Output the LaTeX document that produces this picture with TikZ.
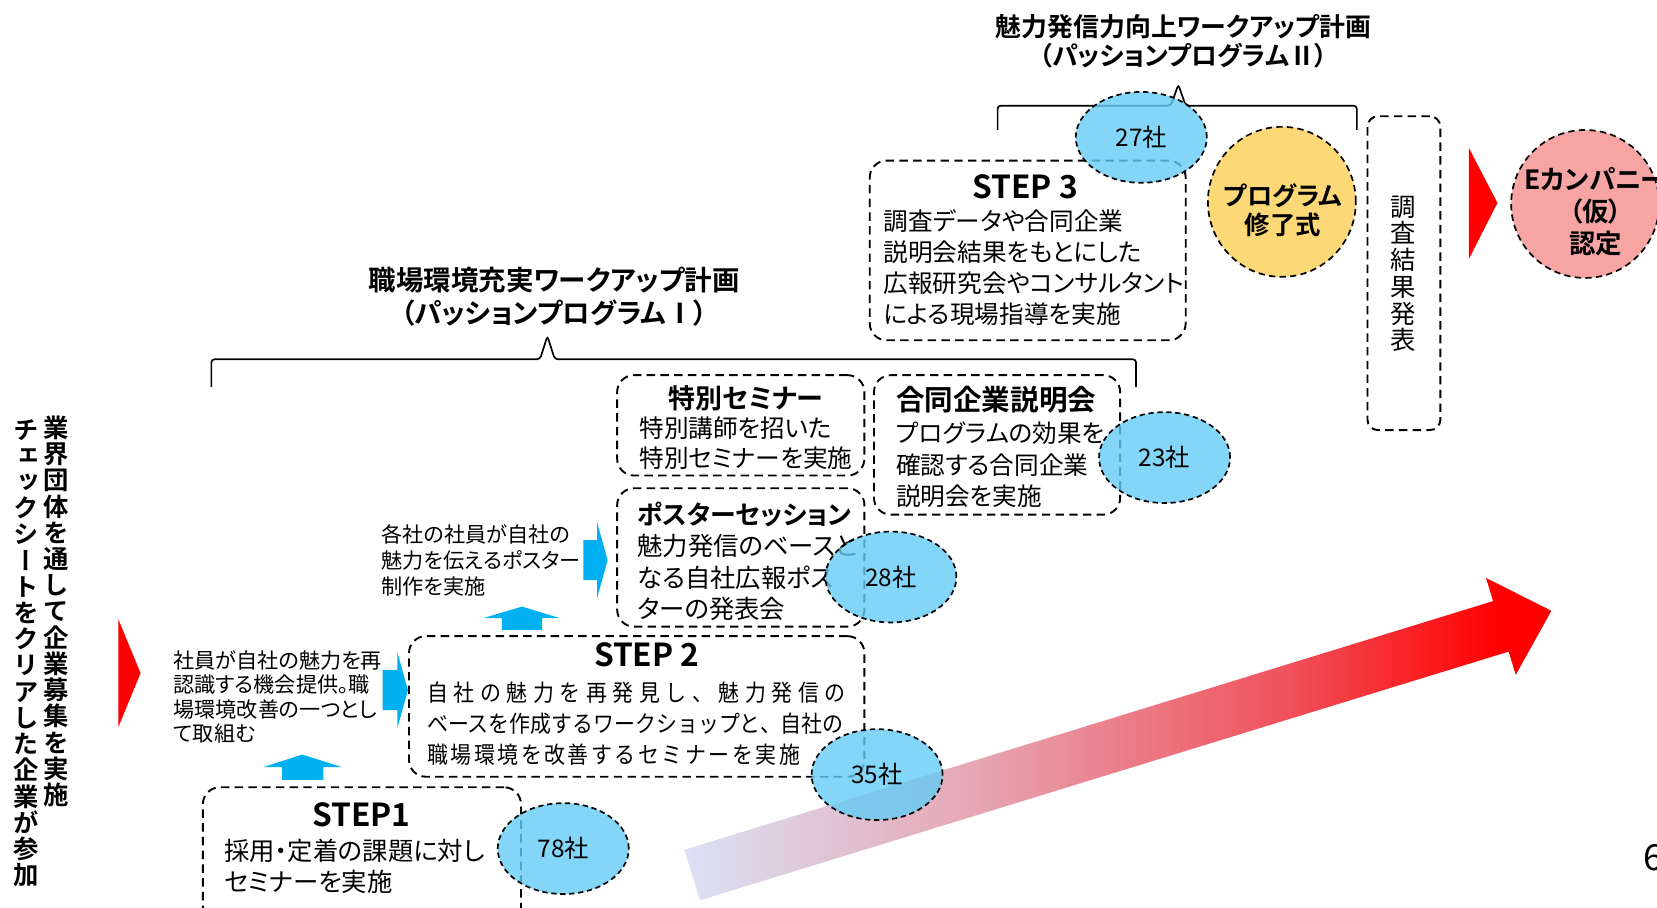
\documentclass[tikz,border=0pt]{standalone}
\usepackage{fontspec}
\newfontfamily\jp[BoldFont={Noto Sans CJK JP Bold}]{Noto Sans CJK JP}
\newfontfamily\jpp[RawFeature=+palt,BoldFont={Noto Sans CJK JP Bold}]{Noto Sans CJK JP}
\newfontfamily\jpc[FakeStretch=0.9,BoldFont={Noto Sans CJK JP Bold}]{Noto Sans CJK JP}
\newfontfamily\jpv[RawFeature=+vert,BoldFont={Noto Sans CJK JP Bold}]{Noto Sans CJK JP}
\usetikzlibrary{shapes.geometric}
\definecolor{ellblue}{RGB}{100,204,245}
\definecolor{ellyel}{RGB}{252,216,118}
\definecolor{ellpink}{RGB}{246,164,164}
\definecolor{arrblue}{RGB}{0,176,240}
\definecolor{gA}{RGB}{218,226,244}
\definecolor{gB}{RGB}{230,165,178}
\definecolor{gC}{RGB}{240,80,90}
\definecolor{gD}{RGB}{255,0,0}
\pgfdeclarehorizontalshading{bigarrow}{100bp}{color(0bp)=(gA); color(25bp)=(gA); color(42bp)=(gB); color(60bp)=(gC); color(72bp)=(gD); color(100bp)=(gD)}
\makeatletter
\newcommand\spr[2]{\makebox[#1][s]{\spr@a#2\spr@end}}
\def\spr@a#1{#1\spr@b}
\def\spr@b#1{\ifx#1\spr@end\else\hfil#1\expandafter\spr@b\fi}
\def\spr@end{}
\makeatother
\tikzset{
  dbox/.style={draw=black, dash pattern=on 8pt off 5pt, line width=1.8pt, rounded corners=16pt, rectangle, inner sep=0pt},
  cnt/.style={ellipse, draw=black, dash pattern=on 5pt off 3.5pt, line width=1.6pt, fill=ellblue, fill opacity=0.8, text opacity=1, minimum width=124pt, minimum height=86pt, inner sep=0pt, font=\jp\fontsize{23}{25}\selectfont},
  bigell/.style={ellipse, draw=black, dash pattern=on 6pt off 4pt, line width=1.6pt, minimum width=140pt, minimum height=140pt, inner sep=0pt},
  txt/.style={inner sep=0pt, anchor=west, align=left},
  ctxt/.style={inner sep=0pt, align=center},
  brace/.style={line width=1.6pt, rounded corners=3pt},
}
\begin{document}
\begin{tikzpicture}[x=1pt,y=-1pt]
\useasboundingbox (0,0) rectangle (1568,859.2);

% braces
\draw[brace] (200,366) -- (200,340) -- (511,340) -- (518,318) -- (525,340) -- (1075,340) -- (1075,366);
\draw[brace] (944,123) -- (944,100) -- (1108,100) -- (1115,80) -- (1122,100) -- (1284,100) -- (1284,123);

% titles
\node[ctxt, font=\jpp\bfseries\fontsize{24.5}{28}\selectfont] (ttl2) at (1120,39) {魅力発信力向上ワークアップ計画\\（パッションプログラムⅡ）};
\node[ctxt, font=\jpp\bfseries\fontsize{26}{31}\selectfont] (ttl1) at (524.5,280.5) {職場環境充実ワークアップ計画\\（パッションプログラムⅠ）};

% left vertical text
\node[ctxt, font=\jpv\bfseries\fontsize{24}{24.8}\selectfont] (vr) at (53,578.5) {業\\界\\団\\体\\を\\通\\し\\て\\企\\業\\募\\集\\を\\実\\施};
\node[ctxt, font=\jpv\bfseries\fontsize{24}{24.8}\selectfont] (vl) at (25,618) {チ\\ェ\\ッ\\ク\\シ\\ー\\ト\\を\\ク\\リ\\ア\\し\\た\\企\\業\\が\\参\\加};

% red triangles
\fill[red] (112,586) -- (133,637) -- (112,688) -- cycle;
\fill[red] (1390,140) -- (1417,192) -- (1390,245) -- cycle;

% boxes
\node[dbox, minimum width=299pt, minimum height=170pt] (b3) at (972.5,237) {};
\node[dbox, minimum width=234pt, minimum height=95pt] (bsp) at (701,402.5) {};
\node[dbox, minimum width=233pt, minimum height=132pt] (bgo) at (943.5,421) {};
\node[dbox, minimum width=234pt, minimum height=131pt] (bps) at (701,527.5) {};
\node[dbox, minimum width=431pt, minimum height=133pt] (b2) at (602.5,668.5) {};
\node[dbox, minimum width=301pt, minimum height=140pt] (b1) at (342.5,815) {};
\node[dbox, rounded corners=10pt, minimum width=69pt, minimum height=297pt] (bch) at (1328.5,258.5) {};

% big gradient arrow
\shade[shading=bigarrow] (647.6,804.1) -- (1412.9,568.8) -- (1406.1,546.8) -- (1468,578) -- (1434.3,638.6) -- (1427.6,616.6) -- (662.4,851.9) -- cycle;

% blue arrows
\fill[arrblue] (475,596) -- (475,585) -- (457,585) -- (494,574) -- (530,585) -- (513,585) -- (513,596) -- cycle;
\fill[arrblue] (267,738) -- (267,726) -- (249,726) -- (286,714) -- (324,726) -- (306,726) -- (306,738) -- cycle;
\fill[arrblue] (362,634) -- (376,634) -- (376,617) -- (386,653) -- (376,689) -- (376,672) -- (362,672) -- cycle;
\fill[arrblue] (552,511) -- (565,511) -- (565,494) -- (575,530) -- (565,566) -- (565,549) -- (552,549) -- cycle;

% STEP3
\node[ctxt, font=\jp\bfseries\fontsize{30}{32}\selectfont] (t3T) at (970,177) {STEP 3};
\node[txt, font=\jpp\fontsize{23.3}{29.3}\selectfont] (t3B) at (836,253) {調査データや合同企業\\説明会結果をもとにした\\広報研究会やコンサルタント\\による現場指導を実施};

% special seminar
\node[ctxt, font=\jpp\bfseries\fontsize{25.5}{28}\selectfont] (tsT) at (706,377) {特別セミナー};
\node[txt, font=\jpp\fontsize{23.3}{29}\selectfont] (tsB) at (605,419.5) {特別講師を招いた\\特別セミナーを実施};

% joint company briefing
\node[txt, font=\jpp\bfseries\fontsize{27}{29}\selectfont] (tgT) at (848,378) {合同企業説明会};
\node[txt, font=\jpp\fontsize{23.3}{30}\selectfont] (tgB) at (848,440) {プログラムの効果を\\確認する合同企業\\説明会を実施};

% poster session
\node[txt, font=\jpp\bfseries\fontsize{24.5}{28}\selectfont] (tpT) at (603,487) {ポスターセッション};
\node[txt, font=\jpp\fontsize{24}{29.5}\selectfont] (tpB) at (603,546.5) {魅力発信のベースと\\なる自社広報ポス\\ターの発表会};

% STEP2
\node[ctxt, font=\jp\bfseries\fontsize{30}{32}\selectfont] (t2T) at (612,620) {STEP 2};
\node[txt, font=\jpc\fontsize{22}{29.5}\selectfont] (t2B) at (404,684.5) {\spr{396pt}{自社の魅力を再発見し、魅力発信の}\\ベースを作成するワークショップと、自社の\\\spr{353pt}{職場環境を改善するセミナーを実施}};

% STEP1
\node[ctxt, font=\jp\bfseries\fontsize{30}{32}\selectfont] (t1T) at (342,771) {STEP1};
\node[txt, font=\jpp\fontsize{24}{29}\selectfont] (t1B) at (212,819.5) {採用・定着の課題に対し\\セミナーを実施};

% side notes
\node[txt, font=\jpp\fontsize{20}{23}\selectfont] (n1) at (164,659.5) {社員が自社の魅力を再\\認識する機会提供。職\\場環境改善の一つとし\\て取組む};
\node[txt, font=\jpp\fontsize{20}{24.5}\selectfont] (n2) at (361,530.5) {各社の社員が自社の\\魅力を伝えるポスター\\制作を実施};

% survey result vertical text
\node[ctxt, font=\jpv\fontsize{24}{25.3}\selectfont] (vch) at (1328,259) {調\\査\\結\\果\\発\\表};

% program ceremony & E company
\node[bigell, fill=ellyel, minimum width=140pt, minimum height=142pt] (cy) at (1213,191) {};
\node[ctxt, font=\jpp\bfseries\fontsize{24}{28}\selectfont] (cyt) at (1214,199) {プログラム\\修了式};
\node[bigell, fill=ellpink] (ce) at (1500,193) {};
\node[ctxt, font=\jpp\bfseries\fontsize{25}{30.5}\selectfont] (cet) at (1510,200.5) {Eカンパニー\\（仮）\\認定};

% company counts
\node[cnt] (c27) at (1080,130) {27社};
\node[cnt] (c23) at (1102,433) {23社};
\node[cnt] (c28) at (843,546) {28社};
\node[cnt] (c35) at (830,733) {35社};
\node[cnt] (c78) at (533,803) {78社};

% page number
\node[inner sep=0pt, anchor=west, font=\jp\fontsize{34}{36}\selectfont] (pg) at (1555,812) {6};
\end{tikzpicture}
\end{document}
